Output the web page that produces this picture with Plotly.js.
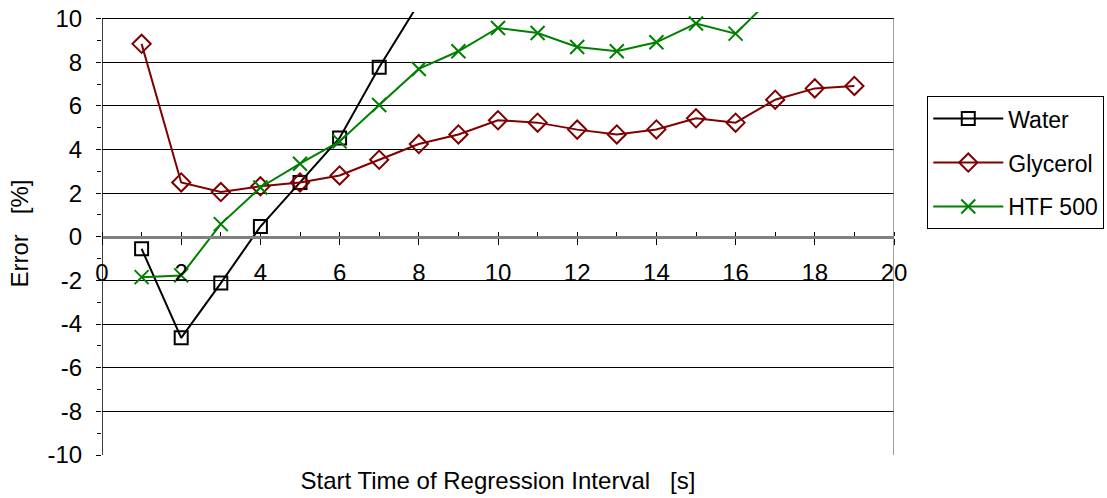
<!DOCTYPE html>
<html>
<head>
<meta charset="utf-8">
<script src="https://cdn.plot.ly/plotly-3.0.1.min.js"></script>
<style>html,body{margin:0;padding:0;background:#fff;}#chart{width:1107px;height:498px;}</style>
</head>
<body>
<div id="chart"></div>
<script>
// Data
const startTime = [1,2,3,4,5,6,7,8,9,10,11,12,13,14,15,16,17,18,19];
const waterX = [1,2,3,4,5,6,7,8];
const waterErr = [-0.55,-4.63,-2.12,0.47,2.49,4.53,7.77,10.7];
const glycerolErr = [8.84,2.49,2.05,2.31,2.49,2.81,3.53,4.25,4.69,5.34,5.23,4.91,4.69,4.92,5.43,5.23,6.28,6.80,6.91];
const htfX = [1,2,3,4,5,6,7,8,9,10,11,12,13,14,15,16,17];
const htfErr = [-1.85,-1.77,0.58,2.26,3.35,4.37,6.04,7.69,8.50,9.57,9.34,8.70,8.50,8.91,9.77,9.31,11.1];
const seriesNames = ['Water','Glycerol','HTF 500'];
const xTickVals = [0,2,4,6,8,10,12,14,16,18,20];
const xTickText = ['0','2','4','6','8','10','12','14','16','18','20'];
const yTickVals = [-10,-8,-6,-4,-2,0,2,4,6,8,10];
const yTickText = ['-10','-8','-6','-4','-2','0','2','4','6','8','10'];

const FONT = 'Liberation Sans, Arial, sans-serif';
const yMin = -10, yMax = 10.3;

const traces = [
  {x: waterX, y: waterErr, name: seriesNames[0], mode: 'lines+markers', legendgroup: 'a',
   line: {color: '#000000', width: 2},
   marker: {symbol: 'square-open', size: 13, color: '#000000', line: {width: 2, color: '#000000'}}},
  {x: startTime, y: glycerolErr, name: seriesNames[1], mode: 'lines+markers', legendgroup: 'b',
   line: {color: '#800000', width: 2},
   marker: {symbol: 'diamond-open', size: 14, color: '#800000', line: {width: 2, color: '#800000'}}},
  {x: htfX, y: htfErr, name: seriesNames[2], mode: 'lines+markers', legendgroup: 'c',
   line: {color: '#008000', width: 2},
   marker: {symbol: 'x-thin', size: 14, color: '#008000', line: {width: 2, color: '#008000'}}}
];

const layout = {
  width: 1107, height: 498,
  margin: {l: 102, r: 213, t: 12, b: 43, autoexpand: false},
  paper_bgcolor: '#ffffff', plot_bgcolor: '#ffffff',
  font: {family: FONT, size: 24, color: '#000000'},
  showlegend: true,
  legend: {x: 1.042, y: 0.81, xanchor: 'left', yanchor: 'top',
    bgcolor: '#ffffff', bordercolor: '#000000', borderwidth: 1,
    font: {family: FONT, size: 23, color: '#000000'},
    traceorder: 'grouped', tracegroupgap: 11, entrywidth: 200, itemwidth: 70},
  xaxis: {range: [0, 20], showgrid: false, zeroline: false, showline: false,
    showticklabels: false, ticks: '',
    title: {text: 'Start Time of Regression Interval\u00a0\u00a0\u00a0[s]', font: {family: FONT, size: 24}, standoff: 17}},
  xaxis2: {range: [0, 20], overlaying: 'x', anchor: 'free', side: 'bottom',
    position: (0 - yMin) / (yMax - yMin),
    tickvals: xTickVals, ticktext: xTickText, ticks: 'outside', ticklen: 6, tickcolor: '#000000', tickwidth: 1,
    minor: {dtick: 1, tick0: 0, ticks: 'inside', ticklen: 4, tickcolor: '#000000', showgrid: false},
    showline: true, linecolor: '#808080', linewidth: 3,
    showgrid: false, zeroline: false,
    tickfont: {family: FONT, size: 24, color: '#000000'}, ticklabelstandoff: 7},
  yaxis: {range: [yMin, yMax], tickvals: yTickVals, ticktext: yTickText, showline: false,
    ticks: 'outside', ticklen: 5, tickcolor: '#000000',
    minor: {dtick: 1, tick0: 0, ticks: 'outside', ticklen: 4, tickcolor: '#000000', showgrid: false},
    showgrid: true, gridcolor: '#000000', gridwidth: 1, zeroline: false,
    tickfont: {family: FONT, size: 24, color: '#000000'}, ticklabelstandoff: 9,
    title: {text: 'Error\u00a0\u00a0\u00a0[%]', font: {family: FONT, size: 24}, standoff: 12}},
  shapes: [
    {type: 'line', xref: 'x', yref: 'y', x0: 0, x1: 0, y0: -10, y1: 10, line: {color: '#000000', width: 1.5}},
    {type: 'line', xref: 'x', yref: 'y', x0: 20, x1: 20, y0: -10, y1: 10, line: {color: '#808080', width: 1.5}}
  ]
};

traces.forEach(t => { t.xaxis = 'x2'; });
Plotly.newPlot('chart', traces, layout, {displayModeBar: false, staticPlot: true});
</script>
</body>
</html>
